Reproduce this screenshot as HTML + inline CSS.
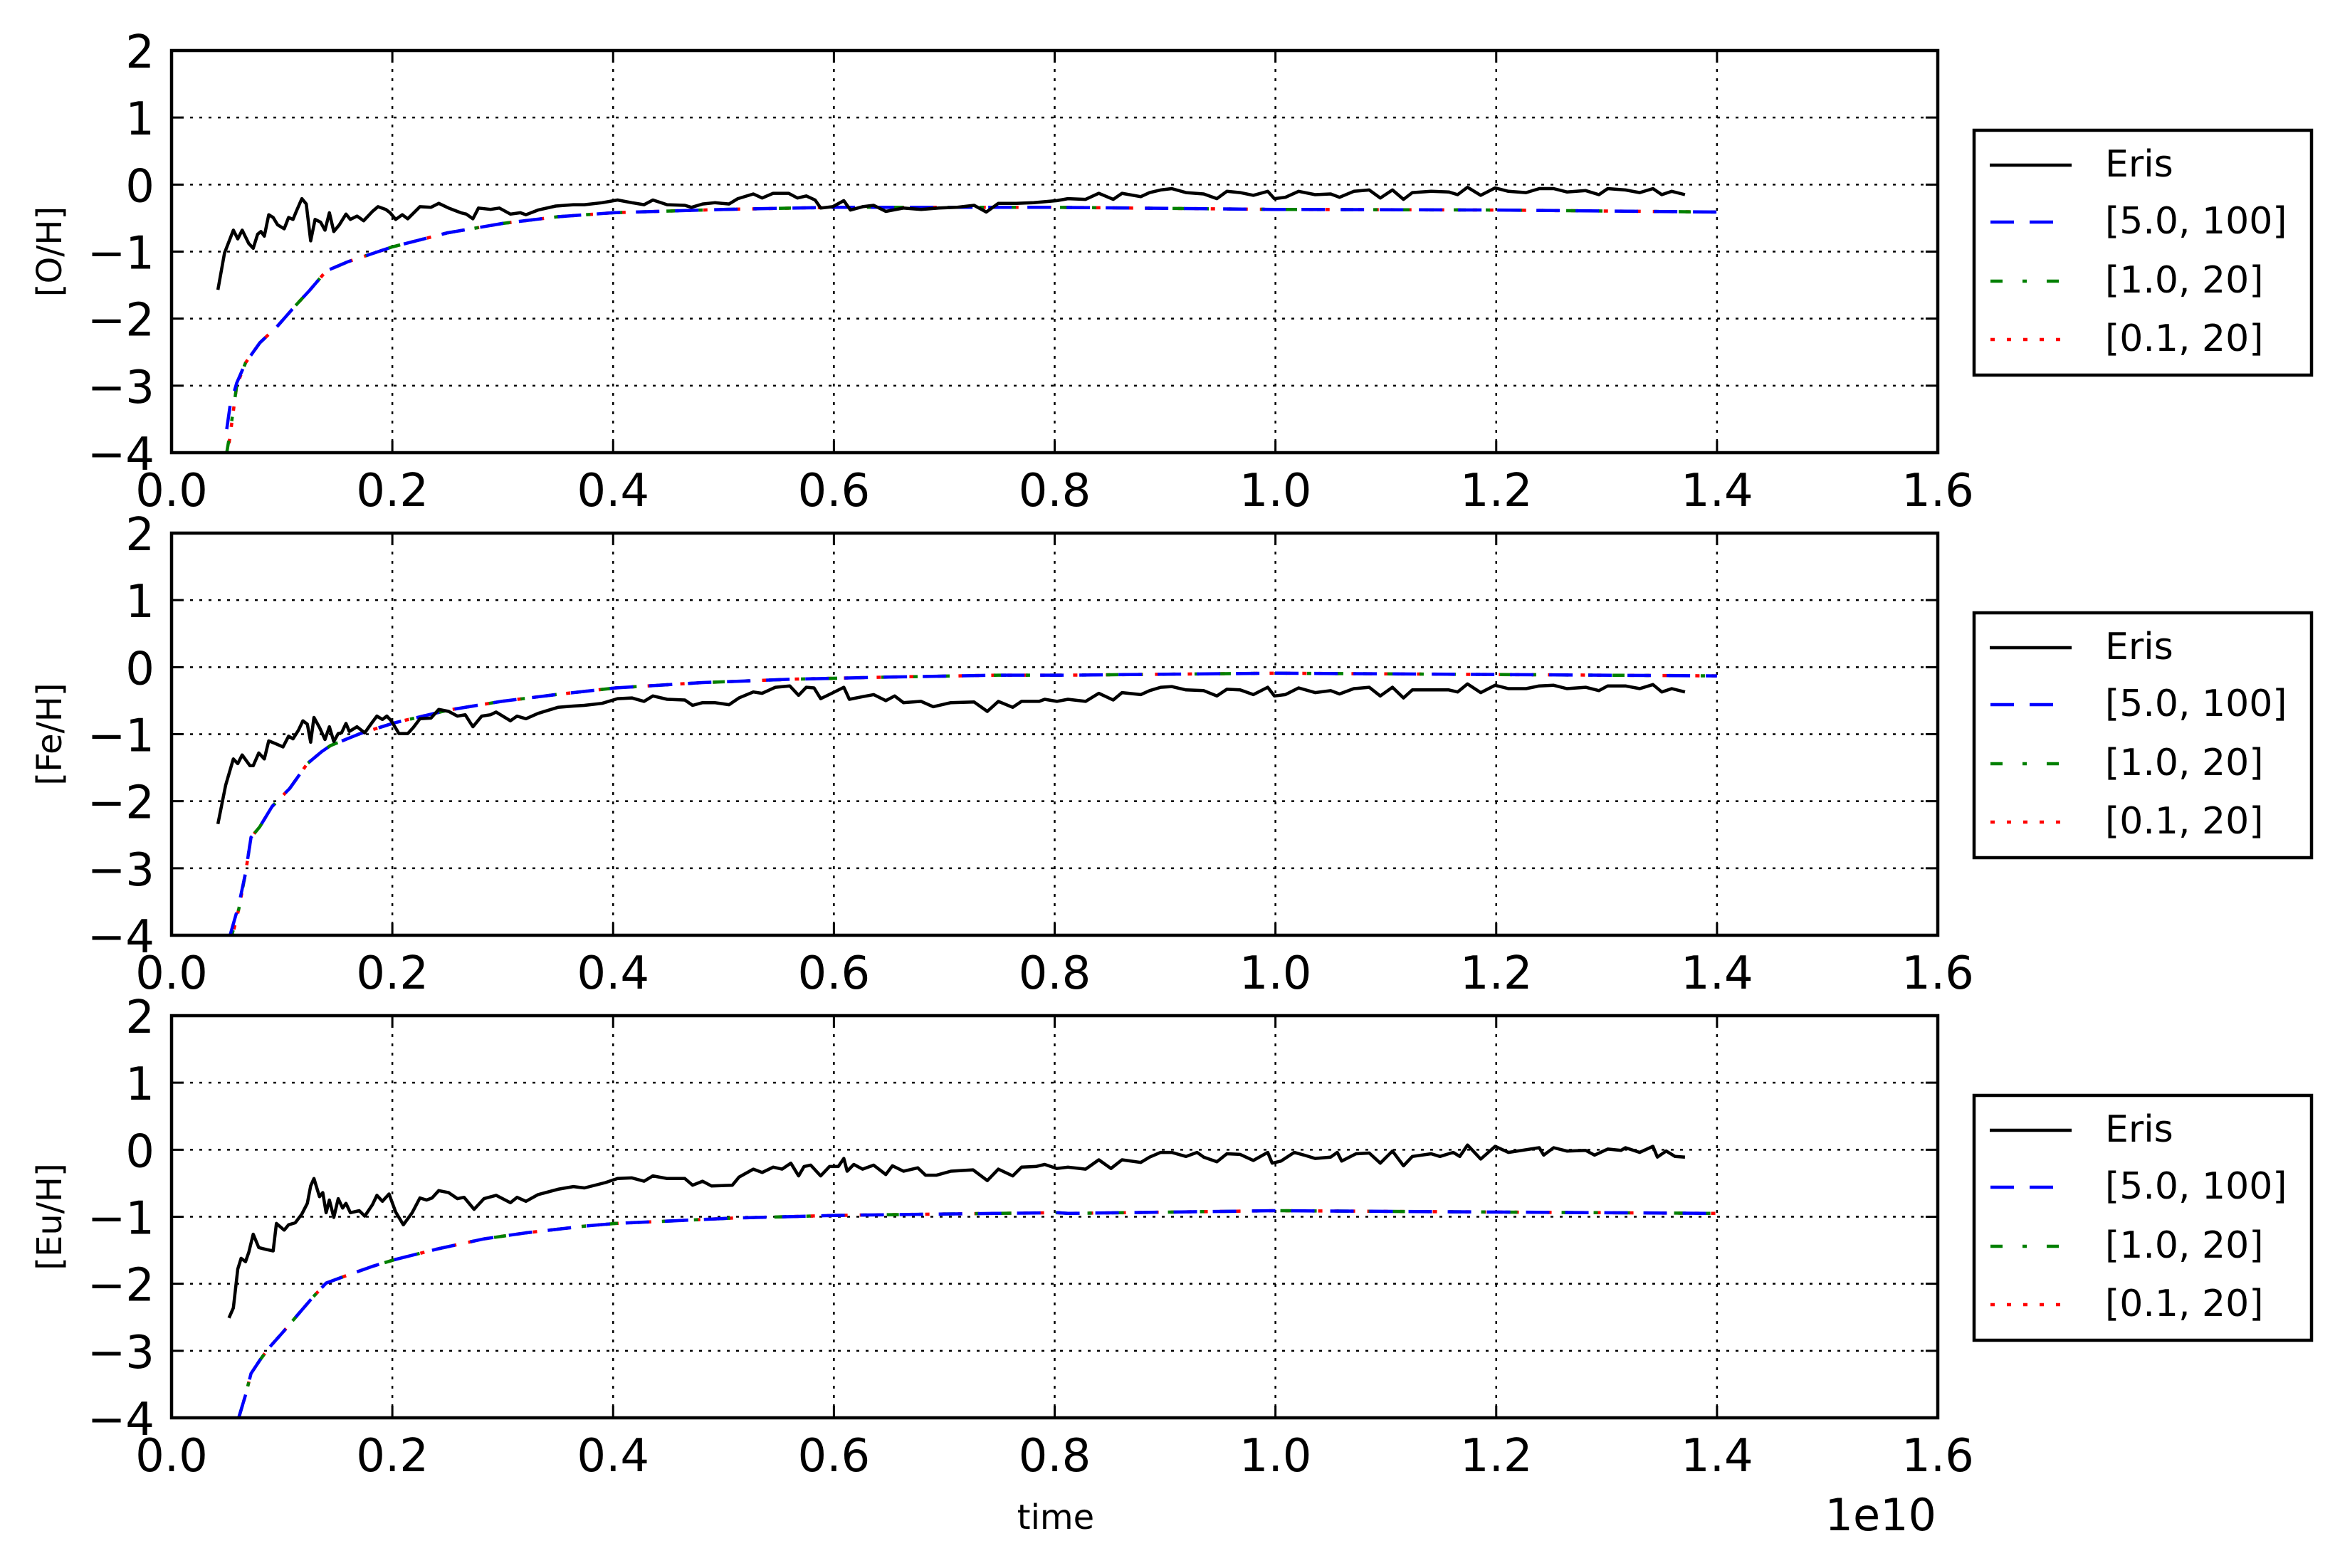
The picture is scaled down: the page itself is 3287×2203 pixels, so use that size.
<!DOCTYPE html>
<html><head><meta charset="utf-8"><style>
html,body{margin:0;padding:0;background:#fff;}
svg{display:block;font-family:"DejaVu Sans","Liberation Sans",sans-serif;}
</style></head><body>
<svg id="chart" width="3287" height="2203" viewBox="0 0 3287 2203" xmlns="http://www.w3.org/2000/svg"></svg>
<script>
// ---- data ----
const xTicks = [0.0, 0.2, 0.4, 0.6, 0.8, 1.0, 1.2, 1.4, 1.6];
const xTickLabels = ["0.0","0.2","0.4","0.6","0.8","1.0","1.2","1.4","1.6"];
const yTicks = [2, 1, 0, -1, -2, -3, -4];
const yTickLabels = ["2","1","0","\u22121","\u22122","\u22123","\u22124"];
const panelLabels = ["[O/H]", "[Fe/H]", "[Eu/H]"];
const seriesNames = ["Eris", "[5.0, 100]", "[1.0, 20]", "[0.1, 20]"];

// Eris [O/H]
const erisOT = [.042,.048,.056,.060,.064,.070,.074,.078,.081,.084,.088,.092,.096,.102,.106,.110,.113,.118,.122,.126,.130,.135,.139,.143,.147,.152,.158,.162,.168,.174,.182,.187,.194,.198,.203,.209,.214,.225,.235,.242,.251,.262,.267,.273,.278,.289,.297,.307,.316,.321,.332,.348,.364,.374,.390,.404,.417,.428,.436,.449,.465,.471,.481,.492,.505,.513,.527,.535,.545,.559,.567,.575,.583,.588,.599,.609,.615,.626,.636,.647,.663,.679,.695,.711,.727,.738,.749,.765,.781,.802,.812,.828,.840,.853,.861,.878,.886,.896,.906,.919,.935,.947,.956,.968,.980,.993,.999,1.009,1.021,1.036,1.050,1.058,1.071,1.085,1.095,1.106,1.116,1.124,1.141,1.157,1.165,1.174,1.186,1.199,1.211,1.227,1.239,1.252,1.264,1.281,1.293,1.301,1.317,1.330,1.342,1.350,1.359,1.371];
const erisOV = [-1.57,-1.02,-0.68,-0.81,-0.68,-0.88,-0.95,-0.74,-0.70,-0.77,-0.45,-0.49,-0.60,-0.66,-0.49,-0.52,-0.40,-0.21,-0.29,-0.84,-0.52,-0.56,-0.68,-0.42,-0.70,-0.60,-0.44,-0.52,-0.47,-0.54,-0.40,-0.33,-0.37,-0.42,-0.52,-0.45,-0.51,-0.33,-0.34,-0.28,-0.35,-0.42,-0.44,-0.51,-0.35,-0.37,-0.35,-0.44,-0.42,-0.45,-0.38,-0.32,-0.30,-0.30,-0.27,-0.23,-0.27,-0.30,-0.23,-0.30,-0.31,-0.34,-0.29,-0.27,-0.29,-0.21,-0.14,-0.20,-0.13,-0.13,-0.20,-0.17,-0.23,-0.35,-0.33,-0.24,-0.38,-0.33,-0.31,-0.40,-0.35,-0.37,-0.35,-0.34,-0.31,-0.41,-0.28,-0.28,-0.27,-0.24,-0.21,-0.22,-0.13,-0.22,-0.13,-0.18,-0.12,-0.08,-0.06,-0.12,-0.14,-0.21,-0.10,-0.12,-0.16,-0.10,-0.21,-0.19,-0.10,-0.15,-0.14,-0.19,-0.10,-0.08,-0.20,-0.08,-0.22,-0.12,-0.10,-0.11,-0.15,-0.04,-0.16,-0.05,-0.10,-0.12,-0.06,-0.06,-0.11,-0.09,-0.15,-0.06,-0.08,-0.12,-0.06,-0.15,-0.10,-0.15];

// Model [O/H]
const modelOT = [.050,.053,.059,.067,.080,.096,.112,.125,.140,.160,.200,.250,.300,.350,.400,.500,.600,.800,1.000,1.200,1.400];
const modelO5V  = [-3.65,-3.30,-2.96,-2.66,-2.36,-2.11,-1.81,-1.58,-1.29,-1.15,-0.93,-0.72,-0.58,-0.48,-0.42,-0.37,-0.34,-0.34,-0.37,-0.38,-0.41];
const modelO1V  = [-4.00,-3.70,-3.00,-2.66,-2.36,-2.11,-1.81,-1.58,-1.29,-1.15,-0.93,-0.72,-0.58,-0.48,-0.42,-0.37,-0.34,-0.34,-0.37,-0.38,-0.41];
const modelO01V = [-4.10,-3.75,-3.00,-2.66,-2.36,-2.11,-1.81,-1.58,-1.29,-1.15,-0.93,-0.72,-0.58,-0.48,-0.42,-0.37,-0.34,-0.34,-0.37,-0.38,-0.41];

// Eris [Fe/H]
const erisFeT = [.042,.049,.056,.060,.064,.071,.074,.079,.084,.088,.094,.101,.106,.110,.115,.119,.123,.126,.129,.134,.139,.143,.147,.151,.154,.158,.161,.168,.175,.181,.186,.191,.195,.199,.206,.214,.219,.225,.235,.242,.251,.259,.266,.273,.281,.289,.294,.307,.313,.321,.332,.350,.364,.374,.390,.404,.417,.428,.436,.449,.465,.472,.481,.492,.505,.514,.527,.535,.547,.560,.568,.575,.582,.588,.598,.609,.614,.626,.636,.647,.655,.663,.679,.690,.706,.727,.739,.749,.762,.770,.786,.791,.802,.812,.828,.840,.853,.861,.878,.886,.896,.906,.919,.935,.947,.956,.968,.980,.993,.999,1.009,1.021,1.036,1.050,1.058,1.071,1.085,1.095,1.106,1.116,1.124,1.141,1.157,1.165,1.174,1.186,1.199,1.211,1.227,1.239,1.252,1.264,1.281,1.293,1.301,1.317,1.330,1.342,1.350,1.359,1.371];
const erisFeV = [-2.34,-1.76,-1.37,-1.44,-1.31,-1.47,-1.47,-1.28,-1.37,-1.10,-1.14,-1.19,-1.03,-1.07,-0.94,-0.80,-0.85,-1.12,-0.75,-0.90,-1.08,-0.89,-1.11,-0.99,-0.98,-0.84,-0.96,-0.89,-0.98,-0.84,-0.73,-0.78,-0.73,-0.80,-0.99,-0.99,-0.90,-0.77,-0.76,-0.63,-0.66,-0.73,-0.71,-0.89,-0.73,-0.71,-0.67,-0.80,-0.73,-0.77,-0.69,-0.60,-0.58,-0.57,-0.54,-0.47,-0.46,-0.51,-0.43,-0.48,-0.49,-0.57,-0.53,-0.53,-0.56,-0.46,-0.37,-0.39,-0.30,-0.28,-0.42,-0.30,-0.31,-0.47,-0.39,-0.30,-0.48,-0.44,-0.41,-0.50,-0.43,-0.53,-0.51,-0.59,-0.53,-0.52,-0.66,-0.51,-0.60,-0.51,-0.51,-0.48,-0.51,-0.48,-0.51,-0.39,-0.49,-0.38,-0.41,-0.35,-0.30,-0.29,-0.34,-0.35,-0.43,-0.33,-0.34,-0.41,-0.30,-0.43,-0.41,-0.31,-0.38,-0.35,-0.40,-0.32,-0.30,-0.43,-0.30,-0.46,-0.34,-0.34,-0.34,-0.37,-0.25,-0.38,-0.27,-0.32,-0.32,-0.28,-0.27,-0.32,-0.30,-0.35,-0.28,-0.28,-0.32,-0.26,-0.37,-0.32,-0.37];

// Model [Fe/H]
const modelFeT = [.053,.061,.067,.072,.080,.091,.107,.123,.136,.144,.171,.202,.251,.299,.348,.402,.481,.561,.642,.749,.812,1.000,1.200,1.400];
const modelFe5V  = [-4.00,-3.54,-3.07,-2.54,-2.38,-2.08,-1.81,-1.44,-1.26,-1.17,-0.99,-0.83,-0.64,-0.51,-0.41,-0.31,-0.23,-0.18,-0.15,-0.12,-0.12,-0.09,-0.11,-0.13];
const modelFe1V  = [-4.10,-3.60,-3.07,-2.54,-2.38,-2.08,-1.81,-1.44,-1.26,-1.17,-0.99,-0.83,-0.64,-0.51,-0.41,-0.31,-0.23,-0.18,-0.15,-0.12,-0.12,-0.09,-0.11,-0.13];
const modelFe01V = [-4.15,-3.60,-3.07,-2.54,-2.38,-2.08,-1.81,-1.44,-1.26,-1.17,-0.99,-0.83,-0.64,-0.51,-0.41,-0.31,-0.23,-0.18,-0.15,-0.12,-0.12,-0.09,-0.11,-0.13];

// Eris [Eu/H]
const erisEuT = [.052,.056,.060,.063,.067,.070,.074,.079,.086,.092,.095,.102,.106,.112,.118,.123,.126,.129,.134,.137,.140,.143,.147,.151,.155,.158,.162,.170,.175,.182,.186,.191,.197,.203,.210,.218,.225,.231,.236,.242,.251,.259,.265,.274,.283,.294,.307,.313,.321,.332,.350,.364,.374,.393,.404,.417,.428,.436,.449,.465,.472,.481,.489,.508,.514,.527,.535,.545,.553,.561,.568,.573,.579,.588,.596,.604,.609,.612,.618,.626,.636,.647,.653,.663,.676,.683,.693,.706,.726,.739,.749,.762,.770,.783,.791,.802,.812,.828,.840,.851,.861,.878,.886,.896,.906,.919,.929,.935,.947,.956,.968,.980,.993,.997,1.005,1.017,1.026,1.036,1.050,1.056,1.060,1.073,1.085,1.095,1.106,1.116,1.124,1.141,1.149,1.161,1.167,1.174,1.186,1.199,1.211,1.223,1.239,1.243,1.252,1.264,1.281,1.289,1.301,1.313,1.317,1.330,1.342,1.346,1.354,1.362,1.371];
const erisEuV = [-2.51,-2.36,-1.78,-1.62,-1.67,-1.53,-1.26,-1.46,-1.49,-1.51,-1.10,-1.20,-1.12,-1.09,-0.96,-0.80,-0.54,-0.43,-0.70,-0.64,-0.94,-0.75,-1.01,-0.73,-0.87,-0.80,-0.94,-0.91,-0.99,-0.82,-0.68,-0.77,-0.66,-0.93,-1.12,-0.94,-0.72,-0.75,-0.72,-0.61,-0.64,-0.73,-0.71,-0.89,-0.73,-0.68,-0.79,-0.71,-0.77,-0.67,-0.59,-0.55,-0.57,-0.49,-0.43,-0.42,-0.47,-0.39,-0.43,-0.43,-0.53,-0.47,-0.54,-0.53,-0.41,-0.29,-0.34,-0.26,-0.29,-0.20,-0.39,-0.25,-0.23,-0.39,-0.25,-0.25,-0.13,-0.32,-0.22,-0.29,-0.23,-0.37,-0.24,-0.32,-0.27,-0.38,-0.38,-0.32,-0.30,-0.46,-0.29,-0.39,-0.26,-0.25,-0.22,-0.28,-0.26,-0.29,-0.15,-0.28,-0.15,-0.19,-0.11,-0.04,-0.04,-0.10,-0.04,-0.11,-0.18,-0.06,-0.07,-0.16,-0.04,-0.20,-0.17,-0.04,-0.08,-0.13,-0.11,-0.04,-0.17,-0.06,-0.05,-0.20,-0.02,-0.24,-0.10,-0.06,-0.10,-0.04,-0.10,0.07,-0.14,0.05,-0.04,-0.01,0.03,-0.08,0.03,-0.02,-0.01,-0.08,0.01,-0.01,0.03,-0.04,0.05,-0.11,-0.02,-0.10,-0.11];

// Model [Eu/H]
const modelEuT = [.061,.067,.072,.080,.088,.102,.115,.128,.140,.158,.182,.202,.241,.283,.321,.374,.402,.455,.508,.602,.695,.802,.812,1.000,1.200,1.400];
const modelEu5V  = [-3.99,-3.66,-3.34,-3.14,-2.96,-2.70,-2.45,-2.20,-1.99,-1.88,-1.74,-1.64,-1.48,-1.33,-1.24,-1.14,-1.10,-1.06,-1.02,-0.98,-0.96,-0.94,-0.95,-0.91,-0.93,-0.95];
const modelEu1V  = [-3.99,-3.66,-3.34,-3.14,-2.96,-2.70,-2.45,-2.20,-1.99,-1.88,-1.74,-1.64,-1.48,-1.33,-1.24,-1.14,-1.10,-1.06,-1.02,-0.98,-0.96,-0.94,-0.95,-0.91,-0.93,-0.95];
const modelEu01V = [-3.99,-3.66,-3.34,-3.14,-2.96,-2.70,-2.45,-2.20,-1.99,-1.88,-1.74,-1.64,-1.48,-1.33,-1.24,-1.14,-1.10,-1.06,-1.02,-0.98,-0.96,-0.94,-0.95,-0.91,-0.93,-0.95];

// ---- layout ----
const NS = "http://www.w3.org/2000/svg";
const svg = document.getElementById("chart");
const AX_L = 241, AX_R = 2722, AX_H = 565;
const PANEL_TOPS = [71, 749, 1427];
const X_MIN = 0, X_MAX = 1.6, Y_MIN = -4, Y_MAX = 2;
const xScale = t => AX_L + (t - X_MIN) / (X_MAX - X_MIN) * (AX_R - AX_L);
const yScaleFor = top => v => top + (Y_MAX - v) / (Y_MAX - Y_MIN) * AX_H;

function mk(tag, attrs, parent) {
  const el = document.createElementNS(NS, tag);
  for (const k in attrs) el.setAttribute(k, attrs[k]);
  (parent || svg).appendChild(el);
  return el;
}
function pathD(ts, vs, ys) {
  return ts.map((t, i) => (i ? "L" : "M") + xScale(t).toFixed(1) + "," + ys(vs[i]).toFixed(1)).join(" ");
}

const panels = [
  { eT: erisOT, eV: erisOV, mT: modelOT, m: [modelO5V, modelO1V, modelO01V] },
  { eT: erisFeT, eV: erisFeV, mT: modelFeT, m: [modelFe5V, modelFe1V, modelFe01V] },
  { eT: erisEuT, eV: erisEuV, mT: modelEuT, m: [modelEu5V, modelEu1V, modelEu01V] }
];
const styles = [
  { color: "#0000ff", dash: "33,22" },
  { color: "#008000", dash: "17,28,6,28" },
  { color: "#ff0000", dash: "6,17" }
];

panels.forEach((p, pi) => {
  const top = PANEL_TOPS[pi];
  const ys = yScaleFor(top);
  const g = mk("g", {});
  
  

  const bg = mk("rect", { x: AX_L, y: top, width: AX_R - AX_L, height: AX_H, fill: "#fff" }, g);
  
  

  const clip = mk("clipPath", { id: "clip" + pi }, g);
  mk("rect", { x: AX_L, y: top, width: AX_R - AX_L, height: AX_H }, clip);

  xTicks.forEach(t => {
    const l = mk("line", { x1: xScale(t), x2: xScale(t), y1: top, y2: top + AX_H, stroke: "#000", "stroke-width": 2.5, "stroke-dasharray": "4,9" }, g);
    
    
  });
  yTicks.forEach(v => {
    const l = mk("line", { x1: AX_L, x2: AX_R, y1: ys(v), y2: ys(v), stroke: "#000", "stroke-width": 2.5, "stroke-dasharray": "4,9" }, g);
    
    
  });

  [2, 1, 0].forEach(si => {
    const s = styles[si];
    const line = mk("path", { d: pathD(p.mT, p.m[si], ys), fill: "none", stroke: s.color, "stroke-width": 4.5, "stroke-dasharray": s.dash, "clip-path": "url(#clip" + pi + ")" }, g);
    
    
  });
  const er = mk("path", { d: pathD(p.eT, p.eV, ys), fill: "none", stroke: "#000", "stroke-width": 4.5, "stroke-linejoin": "round", "clip-path": "url(#clip" + pi + ")" }, g);
  
  

  xTicks.forEach(t => {
    const x = xScale(t);
    mk("line", { x1: x, x2: x, y1: top + AX_H, y2: top + AX_H - 17, stroke: "#000", "stroke-width": 3 }, g);
    mk("line", { x1: x, x2: x, y1: top, y2: top + 17, stroke: "#000", "stroke-width": 3 }, g);
  });
  yTicks.forEach(v => {
    const y = ys(v);
    mk("line", { x1: AX_L, x2: AX_L + 17, y1: y, y2: y, stroke: "#000", "stroke-width": 3 }, g);
    mk("line", { x1: AX_R, x2: AX_R - 17, y1: y, y2: y, stroke: "#000", "stroke-width": 3 }, g);
  });

  const fr = mk("rect", { x: AX_L, y: top, width: AX_R - AX_L, height: AX_H, fill: "none", stroke: "#000", "stroke-width": 4.5 }, g);
  
  

  xTicks.forEach((t, i) => {
    const tx = mk("text", { x: xScale(t), y: top + AX_H + 75, "font-size": 64, "text-anchor": "middle" }, g);
    
    
    tx.textContent = xTickLabels[i];
  });
  yTicks.forEach((v, i) => {
    const tx = mk("text", { x: 217, y: ys(v) + 24, "font-size": 64, "text-anchor": "end" }, g);
    
    
    tx.textContent = yTickLabels[i];
  });

  const cy = top + AX_H / 2;
  const yt = mk("text", { x: 86, y: cy, "font-size": 48, "text-anchor": "middle", transform: "rotate(-90 86 " + cy + ")" }, g);
  
  
  yt.textContent = panelLabels[pi];

  const off = mk("text", { x: 2720, y: top + AX_H + 158, "font-size": 62, "text-anchor": "end" }, g);
  
  
  off.textContent = "1e10";

  const lt = top + 112;
  const lg = mk("g", {}, g);
  
  
  mk("rect", { x: 2773, y: lt, width: 474, height: 344, fill: "#fff", stroke: "#000", "stroke-width": 4.5 }, lg);
  const rowY = [lt + 65, lt + 145, lt + 228, lt + 310];
  seriesNames.forEach((name, si) => {
    const e = mk("g", {}, lg);
    
    
    const y = rowY[si] - 16;
    if (si === 0) {
      mk("line", { x1: 2795, x2: 2910, y1: y, y2: y, stroke: "#000", "stroke-width": 4.5 }, e);
    } else {
      const s = styles[si - 1];
      mk("line", { x1: 2796, x2: 2905, y1: y, y2: y, stroke: s.color, "stroke-width": 4.5, "stroke-dasharray": s.dash }, e);
    }
    const tx = mk("text", { x: 2957, y: rowY[si], "font-size": 52 }, e);
    tx.textContent = name;
  });
});

const xt = mk("text", { x: 1483, y: 2148, "font-size": 48, "text-anchor": "middle" });


xt.textContent = "time";
</script>
</body></html>
